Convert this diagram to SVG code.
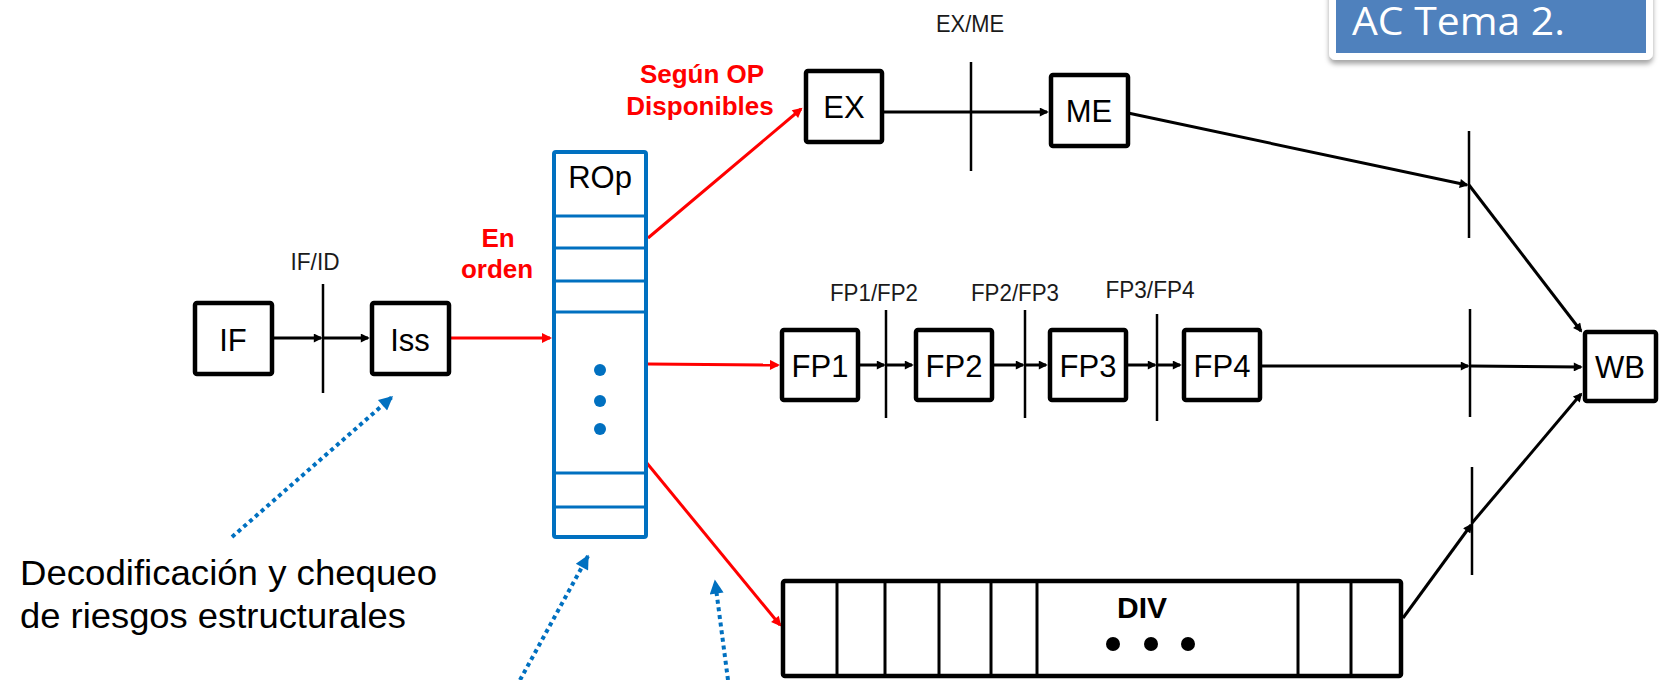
<svg xmlns="http://www.w3.org/2000/svg" width="1662" height="680" viewBox="0 0 1662 680">
<style>
  .box { fill: #fff; stroke: #000; stroke-width: 4.5; }
  .lbl { font-family: "Liberation Sans", Arial, sans-serif; font-size: 31px; fill: #000; text-anchor: middle; }
  .reg { font-family: "Liberation Sans", Arial, sans-serif; font-size: 24px; fill: #1a1a1a; text-anchor: middle; }
  .red { font-family: "Liberation Sans", Arial, sans-serif; font-size: 26px; font-weight: bold; fill: #ff0000; text-anchor: middle; }
  .note { font-family: "Liberation Sans", Arial, sans-serif; font-size: 35px; fill: #000; }
  .bar { stroke: #000; stroke-width: 2.5; fill: none; }
  .blk { stroke: #000; stroke-width: 3; fill: none; marker-end: url(#ahb); }
  .rl { stroke: #ff0000; stroke-width: 3; fill: none; marker-end: url(#ahr); }
  .dot { stroke: #0070c0; stroke-width: 4; stroke-dasharray: 4 3.7; fill: none; marker-end: url(#ahu); }
  .rop { fill: #fff; stroke: #0070c0; stroke-width: 4; }
  .ropl { stroke: #0070c0; stroke-width: 3; }
  .div { stroke: #000; stroke-width: 3; }
</style>
<defs>
  <marker id="ahb" viewBox="0 0 10 10" refX="8" refY="5" markerWidth="12" markerHeight="9" markerUnits="userSpaceOnUse" orient="auto">
    <path d="M0,0 L10,5 L0,10 z" fill="#000"/>
  </marker>
  <marker id="ahr" viewBox="0 0 10 10" refX="8" refY="5" markerWidth="12" markerHeight="10" markerUnits="userSpaceOnUse" orient="auto">
    <path d="M0,0 L10,5 L0,10 z" fill="#ff0000"/>
  </marker>
  <marker id="ahu" viewBox="0 0 10 10" refX="9" refY="5" markerWidth="18" markerHeight="14" markerUnits="userSpaceOnUse" orient="auto">
    <path d="M0,0 L10,5 L0,10 z" fill="#0070c0"/>
  </marker>
  <filter id="sh" x="-10%" y="-30%" width="120%" height="160%">
    <feDropShadow dx="0" dy="4" stdDeviation="2.5" flood-color="#000" flood-opacity="0.35"/>
  </filter>
</defs>

<g id="title">
  <rect x="1332.5" y="-20" width="317" height="76.5" rx="3" fill="#4f81bd" stroke="#fff" stroke-width="7" filter="url(#sh)"/>
  <text x="1352" y="35" font-family="'Open Sans', 'Noto Sans', sans-serif" font-size="39" fill="#fff" textLength="213" lengthAdjust="spacingAndGlyphs">AC Tema 2.</text>
</g>

<g id="registers">
  <line class="bar" x1="323" y1="284" x2="323" y2="393"/>
  <text class="reg" x="315" y="270" textLength="49" lengthAdjust="spacingAndGlyphs">IF/ID</text>
  <line class="bar" x1="971" y1="62" x2="971" y2="171"/>
  <text class="reg" x="970" y="32" textLength="68" lengthAdjust="spacingAndGlyphs">EX/ME</text>
  <line class="bar" x1="886" y1="310" x2="886" y2="418"/>
  <text class="reg" x="874" y="301" textLength="88" lengthAdjust="spacingAndGlyphs">FP1/FP2</text>
  <line class="bar" x1="1025" y1="310" x2="1025" y2="418"/>
  <text class="reg" x="1015" y="301" textLength="88" lengthAdjust="spacingAndGlyphs">FP2/FP3</text>
  <line class="bar" x1="1157" y1="314" x2="1157" y2="421"/>
  <text class="reg" x="1150" y="298" textLength="89" lengthAdjust="spacingAndGlyphs">FP3/FP4</text>
  <line class="bar" x1="1469" y1="131" x2="1469" y2="238"/>
  <line class="bar" x1="1470" y1="309" x2="1470" y2="417"/>
  <line class="bar" x1="1472" y1="467" x2="1472" y2="575"/>
</g>

<g id="connectors">
  <line class="blk" x1="274" y1="338" x2="321" y2="338"/>
  <line class="blk" x1="323" y1="338" x2="368" y2="338"/>
  <line class="blk" x1="884" y1="112" x2="1047" y2="112"/>
  <line class="blk" x1="1128" y1="113" x2="1467" y2="185"/>
  <line class="blk" x1="1469" y1="185" x2="1581" y2="331"/>
  <line class="blk" x1="860" y1="365" x2="884" y2="365"/>
  <line class="blk" x1="886" y1="365" x2="912" y2="365"/>
  <line class="blk" x1="994" y1="365" x2="1023" y2="365"/>
  <line class="blk" x1="1025" y1="365" x2="1046" y2="365"/>
  <line class="blk" x1="1128" y1="365" x2="1155" y2="365"/>
  <line class="blk" x1="1157" y1="365" x2="1180" y2="365"/>
  <line class="blk" x1="1262" y1="366" x2="1468" y2="366"/>
  <line class="blk" x1="1470" y1="366" x2="1581" y2="367"/>
  <line class="blk" x1="1403" y1="618" x2="1471" y2="525"/>
  <line class="blk" x1="1472" y1="523" x2="1581" y2="394"/>
  <line class="rl" x1="451" y1="338" x2="550" y2="338"/>
  <line class="rl" x1="648" y1="238" x2="801" y2="109"/>
  <line class="rl" x1="648" y1="364" x2="778" y2="365"/>
  <line class="rl" x1="646" y1="462" x2="780" y2="625"/>
  <line class="dot" x1="232" y1="537" x2="392" y2="397"/>
  <line class="dot" x1="520" y1="680" x2="588" y2="556"/>
  <line class="dot" x1="728" y1="680" x2="715" y2="581"/>
</g>

<g id="labels">
  <text class="red" x="498" y="247">En</text>
  <text class="red" x="497" y="278">orden</text>
  <text class="red" x="702" y="83">Según OP</text>
  <text class="red" x="700" y="115">Disponibles</text>
  <text class="note" x="20" y="585" textLength="417" lengthAdjust="spacingAndGlyphs">Decodificación y chequeo</text>
  <text class="note" x="20" y="628" textLength="386" lengthAdjust="spacingAndGlyphs">de riesgos estructurales</text>
</g>

<g id="IF">
  <rect class="box" x="195" y="303" width="77" height="71" rx="2"/>
  <text class="lbl" x="233" y="351">IF</text>
</g>
<g id="Iss">
  <rect class="box" x="372" y="303" width="77" height="71" rx="2"/>
  <text class="lbl" x="410" y="351">Iss</text>
</g>
<g id="ROp">
  <rect class="rop" x="554" y="152" width="92" height="385" rx="2"/>
  <line class="ropl" x1="556" y1="216" x2="644" y2="216"/>
  <line class="ropl" x1="556" y1="248" x2="644" y2="248"/>
  <line class="ropl" x1="556" y1="281" x2="644" y2="281"/>
  <line class="ropl" x1="556" y1="312" x2="644" y2="312"/>
  <line class="ropl" x1="556" y1="473" x2="644" y2="473"/>
  <line class="ropl" x1="556" y1="507" x2="644" y2="507"/>
  <text class="lbl" x="600" y="188">ROp</text>
  <circle cx="600" cy="370" r="6" fill="#0070c0"/>
  <circle cx="600" cy="401" r="6" fill="#0070c0"/>
  <circle cx="600" cy="429" r="6" fill="#0070c0"/>
</g>
<g id="EX">
  <rect class="box" x="806" y="71" width="76" height="71" rx="2"/>
  <text class="lbl" x="844" y="118">EX</text>
</g>
<g id="ME">
  <rect class="box" x="1051" y="75" width="77" height="71" rx="2"/>
  <text class="lbl" x="1089" y="122">ME</text>
</g>
<g id="FP1">
  <rect class="box" x="782" y="330" width="76" height="70" rx="2"/>
  <text class="lbl" x="820" y="377">FP1</text>
</g>
<g id="FP2">
  <rect class="box" x="916" y="330" width="76" height="70" rx="2"/>
  <text class="lbl" x="954" y="377">FP2</text>
</g>
<g id="FP3">
  <rect class="box" x="1050" y="330" width="76" height="70" rx="2"/>
  <text class="lbl" x="1088" y="377">FP3</text>
</g>
<g id="FP4">
  <rect class="box" x="1184" y="330" width="76" height="70" rx="2"/>
  <text class="lbl" x="1222" y="377">FP4</text>
</g>
<g id="WB">
  <rect class="box" x="1585" y="332" width="71" height="69" rx="2"/>
  <text class="lbl" x="1620" y="378">WB</text>
</g>
<g id="DIV">
  <rect class="box" x="783" y="581" width="618" height="95" rx="2"/>
  <line class="div" x1="837" y1="581" x2="837" y2="676"/>
  <line class="div" x1="885" y1="581" x2="885" y2="676"/>
  <line class="div" x1="939" y1="581" x2="939" y2="676"/>
  <line class="div" x1="991" y1="581" x2="991" y2="676"/>
  <line class="div" x1="1037" y1="581" x2="1037" y2="676"/>
  <line class="div" x1="1298" y1="581" x2="1298" y2="676"/>
  <line class="div" x1="1351" y1="581" x2="1351" y2="676"/>
  <text x="1142" y="618" font-family="'Liberation Sans', Arial, sans-serif" font-size="30" font-weight="bold" text-anchor="middle">DIV</text>
  <circle cx="1113" cy="644" r="7"/>
  <circle cx="1151" cy="644" r="7"/>
  <circle cx="1188" cy="644" r="7"/>
</g>
</svg>
